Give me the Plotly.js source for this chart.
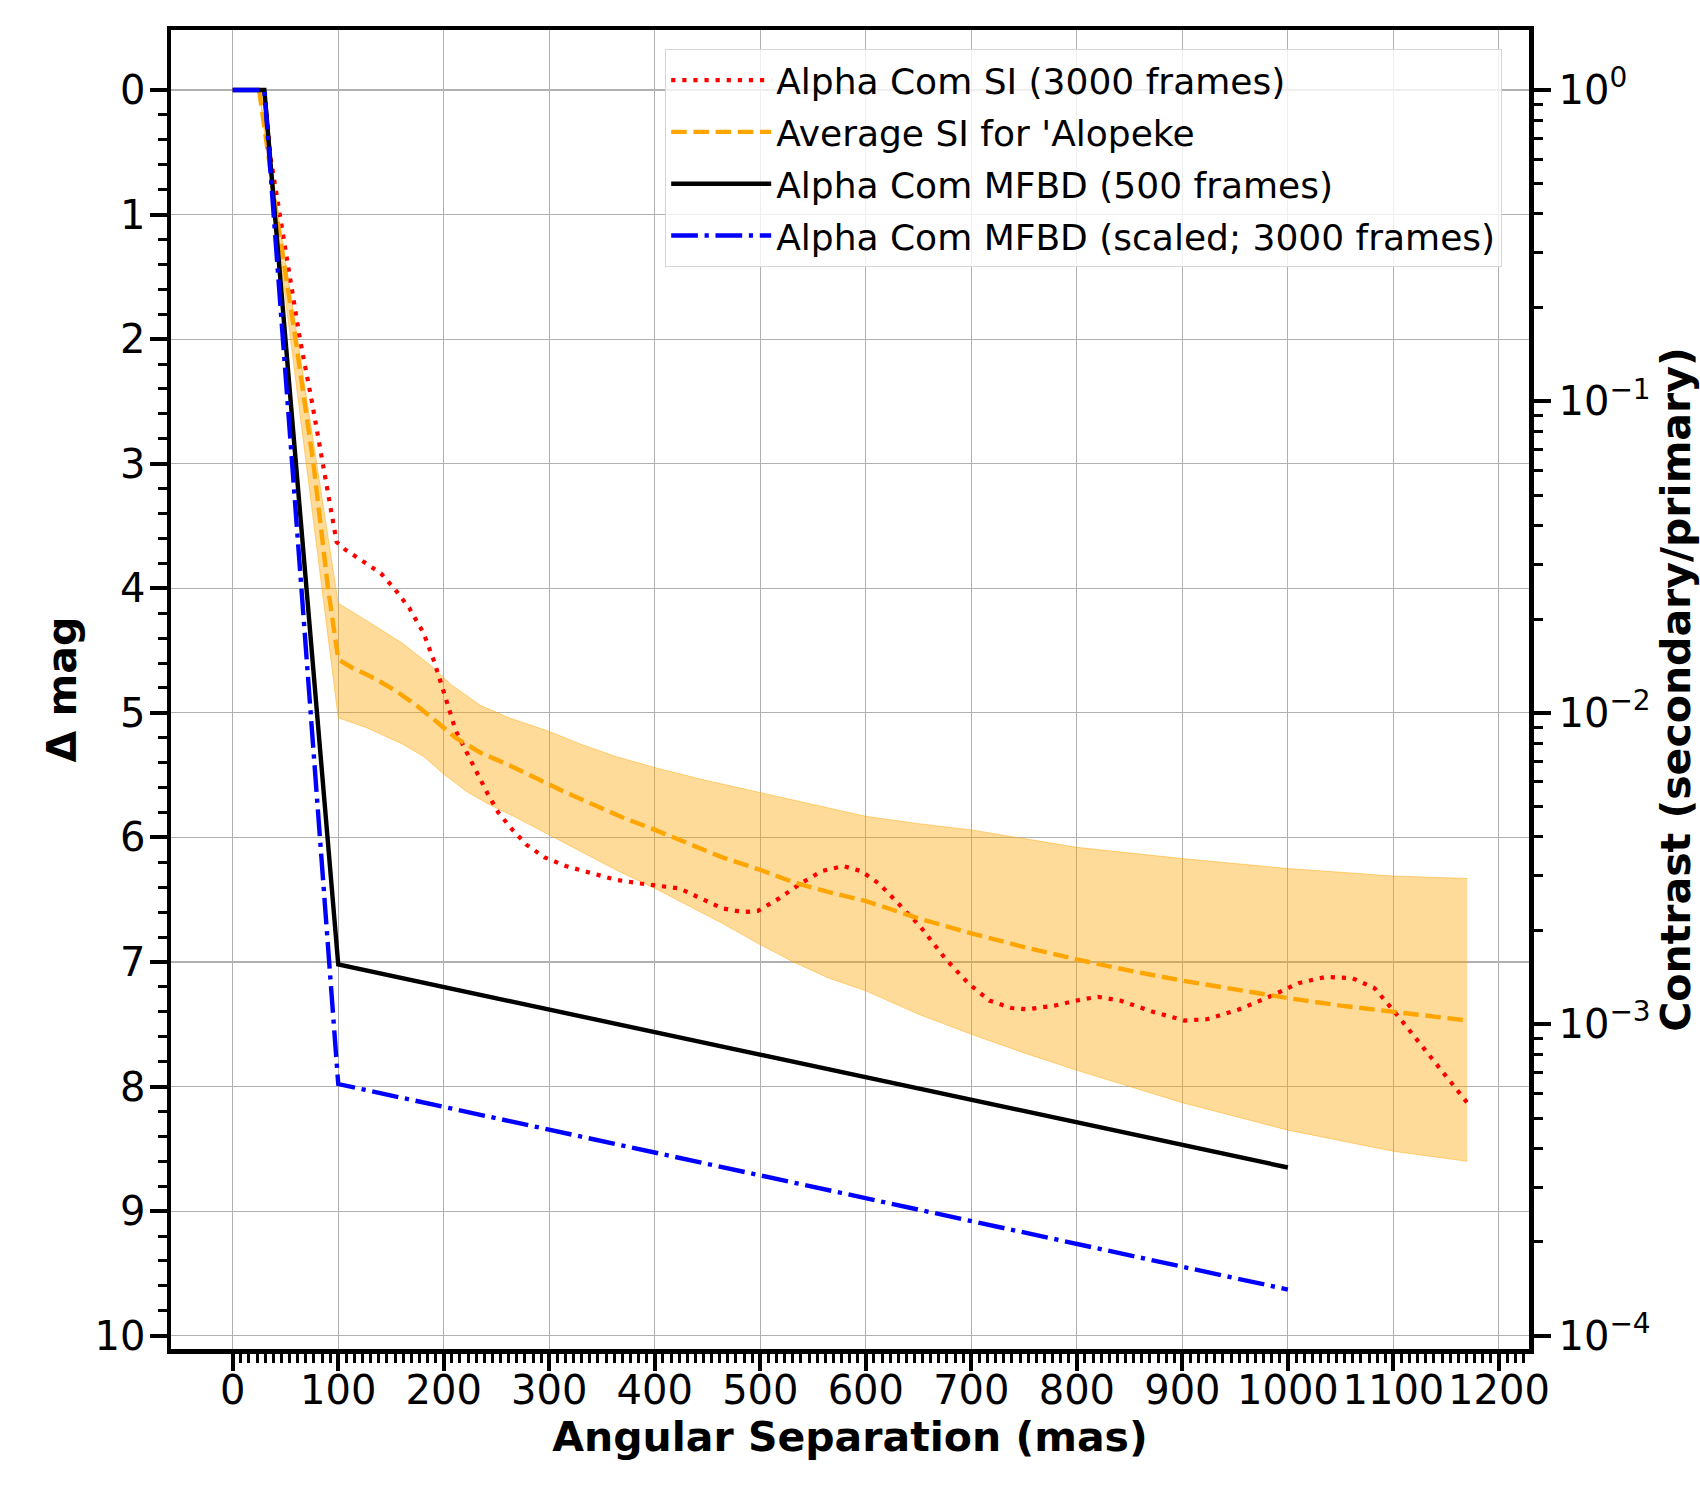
<!DOCTYPE html>
<html>
<head>
<meta charset="utf-8">
<script src="https://cdn.plot.ly/plotly-3.0.1.min.js"></script>
<style>html,body{margin:0;padding:0;background:#fff;}#chart{width:1700px;height:1500px;}</style>
</head>
<body>
<div id="chart"></div>
<script>
// ---- Data ----
// Alpha Com SI (3000 frames)
const siX = [0, 30, 36, 44.7, 54, 63.7, 75, 85.7, 93, 98.5, 106.7, 123.6, 140.4, 153.9, 167.4, 180.9, 191, 197.7, 204.5, 211.2, 221.3, 231.4, 241.6, 251.7, 265.2, 278.6, 295.5, 315.7, 335.9, 362.9, 386.5, 406.7, 423.6, 443.8, 464, 484.2, 497.7, 517.9, 538.2, 558.4, 578.6, 595.4, 612.3, 625, 651, 676, 697, 717, 738, 753, 779, 805, 820, 841, 872, 902, 923, 954, 985, 1010, 1036, 1061, 1082, 1103, 1123, 1149, 1170];
const siMag = [0, 0, 0.55, 1.0, 1.5, 2.0, 2.5, 3.0, 3.35, 3.63, 3.69, 3.79, 3.88, 4.01, 4.16, 4.36, 4.59, 4.77, 4.97, 5.14, 5.31, 5.48, 5.65, 5.80, 5.94, 6.06, 6.16, 6.23, 6.28, 6.34, 6.37, 6.39, 6.41, 6.49, 6.57, 6.60, 6.59, 6.49, 6.37, 6.27, 6.23, 6.27, 6.37, 6.48, 6.71, 6.98, 7.17, 7.31, 7.37, 7.38, 7.35, 7.30, 7.28, 7.31, 7.40, 7.47, 7.46, 7.38, 7.27, 7.17, 7.12, 7.13, 7.21, 7.42, 7.63, 7.90, 8.13];

// Average SI for 'Alopeke (mean curve)
const avgX = [25, 41.6, 59.5, 76.5, 90.3, 100, 113.5, 133.7, 153.9, 174.1, 194.4, 211.2, 234.8, 261.8, 288.7, 315.7, 342.7, 369.6, 400.3, 430.3, 464, 499.7, 531.4, 565.1, 599.5, 650, 700, 750, 800, 850, 900, 950, 1000, 1050, 1100, 1170];
const avgMag = [0, 1.0, 2.0, 3.0, 4.0, 4.57, 4.64, 4.72, 4.82, 4.94, 5.08, 5.20, 5.32, 5.42, 5.53, 5.64, 5.74, 5.84, 5.94, 6.04, 6.16, 6.26, 6.36, 6.44, 6.51, 6.65, 6.77, 6.88, 6.98, 7.07, 7.15, 7.22, 7.29, 7.35, 7.40, 7.47];

// Spread of the 'Alopeke average (shaded band edges)
const bandUpX = [25, 100, 127, 160.7, 187.6, 207.9, 234.8, 261.8, 300.2, 329.2, 362.9, 400.3, 447.2, 499.7, 548.3, 599.5, 650, 700, 800, 900, 1000, 1100, 1170];
const bandUpMag = [0, 4.12, 4.26, 4.44, 4.62, 4.78, 4.94, 5.04, 5.15, 5.25, 5.35, 5.44, 5.54, 5.64, 5.73, 5.83, 5.89, 5.94, 6.08, 6.17, 6.25, 6.31, 6.33];
const bandLoX = [25, 100, 127, 160.7, 180.9, 201.1, 221.3, 241.6, 268.5, 300.2, 329.2, 362.9, 400.3, 430.3, 464, 499.7, 531.4, 565.1, 599.5, 650, 700, 750, 800, 900, 1000, 1100, 1170];
const bandLoMag = [0, 5.04, 5.12, 5.25, 5.35, 5.50, 5.63, 5.73, 5.84, 5.98, 6.11, 6.26, 6.41, 6.54, 6.69, 6.86, 7.00, 7.13, 7.23, 7.42, 7.58, 7.73, 7.87, 8.13, 8.35, 8.52, 8.60];

// Alpha Com MFBD (500 frames)
const mfbdX = [0, 30, 100, 1000];
const mfbdMag = [0, 0, 7.02, 8.65];

// Alpha Com MFBD (scaled; 3000 frames)
const mfbdScX = [0, 30, 100, 1000];
const mfbdScMag = [0, 0, 7.98, 9.63];

// Tick labels
const xTicks = [0, 100, 200, 300, 400, 500, 600, 700, 800, 900, 1000, 1100, 1200];
const yTicks = [0, 1, 2, 3, 4, 5, 6, 7, 8, 9, 10];
const contrastTicks = [1e-4, 1e-3, 1e-2, 1e-1, 1];
const contrastLabels = ['10<sup>\u22124</sup>', '10<sup>\u22123</sup>', '10<sup>\u22122</sup>', '10<sup>\u22121</sup>', '10<sup>0</sup>'];

const labels = {
  si: 'Alpha Com SI (3000 frames)',
  avg: "Average SI for 'Alopeke",
  mfbd: 'Alpha Com MFBD (500 frames)',
  mfbdSc: 'Alpha Com MFBD (scaled; 3000 frames)'
};

// ---- Axis ranges ----
const xRange = [-58.5, 1228.5];
const magRange = [10.107, -0.4815];           // inverted magnitude axis
const toContrast = m => Math.pow(10, -m / 2.5); // contrast = 10^(-mag/2.5)
const logRange = [-magRange[0] / 2.5, -magRange[1] / 2.5];

// minor tick positions
const xMinor = [];
for (let i = 1; i * 100 / 13 < xRange[1]; i++) { if (i % 13 !== 0) xMinor.push(i * 100 / 13); }
const yMinor = [];
for (let i = 1; i < 50; i++) { if (i % 5 !== 0) yMinor.push(i * 0.2); }
const cMinor = [];
for (let d = -5; d <= 0; d++) { for (let k = 2; k <= 9; k++) cMinor.push(k * Math.pow(10, d)); }

const FONT = 'DejaVu Sans';
const LW = 4.4;

const traces = [
  { // band: lower edge
    x: bandLoX, y: bandLoMag, mode: 'lines', type: 'scatter',
    line: { color: 'rgba(255,165,0,0.45)', width: 1 },
    showlegend: false, hoverinfo: 'skip'
  },
  { // band: upper edge, filled to lower
    x: bandUpX, y: bandUpMag, mode: 'lines', type: 'scatter',
    line: { color: 'rgba(255,165,0,0.45)', width: 1 },
    fill: 'tonexty', fillcolor: 'rgba(255,165,0,0.4)',
    showlegend: false, hoverinfo: 'skip'
  },
  {
    x: siX, y: siMag, mode: 'lines', type: 'scatter', name: labels.si, legendgroup: 'a',
    line: { color: '#ff0000', width: 4.2, dash: '4.2px,6.9px' }
  },
  {
    x: avgX, y: avgMag, mode: 'lines', type: 'scatter', name: labels.avg, legendgroup: 'b',
    line: { color: '#ffa500', width: LW, dash: '15.5px,6.7px' }
  },
  {
    x: mfbdX, y: mfbdMag, mode: 'lines', type: 'scatter', name: labels.mfbd, legendgroup: 'c',
    line: { color: '#000000', width: LW }
  },
  {
    x: mfbdScX, y: mfbdScMag, mode: 'lines', type: 'scatter', name: labels.mfbdSc, legendgroup: 'd',
    line: { color: '#0000ff', width: LW, dash: '26.7px,6.7px,4.2px,6.7px' }
  },
  { // contrast scale carrier for the right axis (invisible copy of the MFBD curve)
    x: mfbdX, y: mfbdMag.map(toContrast), yaxis: 'y2', mode: 'lines', type: 'scatter',
    line: { color: 'rgba(0,0,0,0)', width: 0 }, opacity: 0,
    showlegend: false, hoverinfo: 'skip'
  }
];

const axCommon = {
  showgrid: true, gridcolor: '#b0b0b0', gridwidth: 1.1, zeroline: false,
  ticks: 'outside', ticklen: 17, tickwidth: 4, tickcolor: '#000',
  showline: true, linecolor: '#000', linewidth: 4.5,
  tickfont: { family: FONT, size: 40, color: '#000' },
  tickangle: 0
};

const layout = {
  width: 1700, height: 1500,
  margin: { l: 171, r: 171, t: 30, b: 151, pad: 0 },
  paper_bgcolor: '#fff', plot_bgcolor: '#fff',
  font: { family: FONT, color: '#000' },
  showlegend: true,
  legend: {
    x: 0.9801, y: 0.9856, xanchor: 'right', yanchor: 'top',
    traceorder: 'grouped', tracegroupgap: 2,
    bgcolor: 'rgba(255,255,255,0.8)', bordercolor: '#d6d6d6', borderwidth: 1.2,
    font: { family: FONT, size: 36, color: '#000' },
    itemwidth: 100
  },
  xaxis: Object.assign({}, axCommon, {
    range: xRange, tickmode: 'array', tickvals: xTicks, ticktext: xTicks.map(String),
    mirror: true, ticklabelstandoff: -15,
    minor: { tickmode: 'array', tickvals: xMinor, ticks: 'outside', ticklen: 9, tickwidth: 3, tickcolor: '#000', showgrid: false },
    title: { text: 'Angular Separation (mas)', font: { family: FONT, size: 41, weight: 'bold', color: '#000' }, standoff: 12 }
  }),
  yaxis: Object.assign({}, axCommon, {
    range: magRange, tickmode: 'array', tickvals: yTicks, ticktext: yTicks.map(String),
    ticklabelstandoff: -4,
    minor: { tickmode: 'array', tickvals: yMinor, ticks: 'outside', ticklen: 9, tickwidth: 3, tickcolor: '#000', showgrid: false },
    title: { text: '\u0394 mag', font: { family: FONT, size: 41, weight: 'bold', color: '#000' }, standoff: 6 }
  }),
  yaxis2: Object.assign({}, axCommon, {
    overlaying: 'y', side: 'right', type: 'log', range: logRange,
    showgrid: false,
    tickmode: 'array', tickvals: contrastTicks, ticktext: contrastLabels,
    ticklabelstandoff: 0,
    minor: { tickmode: 'array', tickvals: cMinor, ticks: 'outside', ticklen: 9, tickwidth: 3, tickcolor: '#000', showgrid: false },
    title: { text: 'Contrast (secondary/primary)', font: { family: FONT, size: 41, weight: 'bold', color: '#000' }, standoff: 22 }
  })
};

Plotly.newPlot('chart', traces, layout, { displayModeBar: false, staticPlot: true });
</script>
</body>
</html>
